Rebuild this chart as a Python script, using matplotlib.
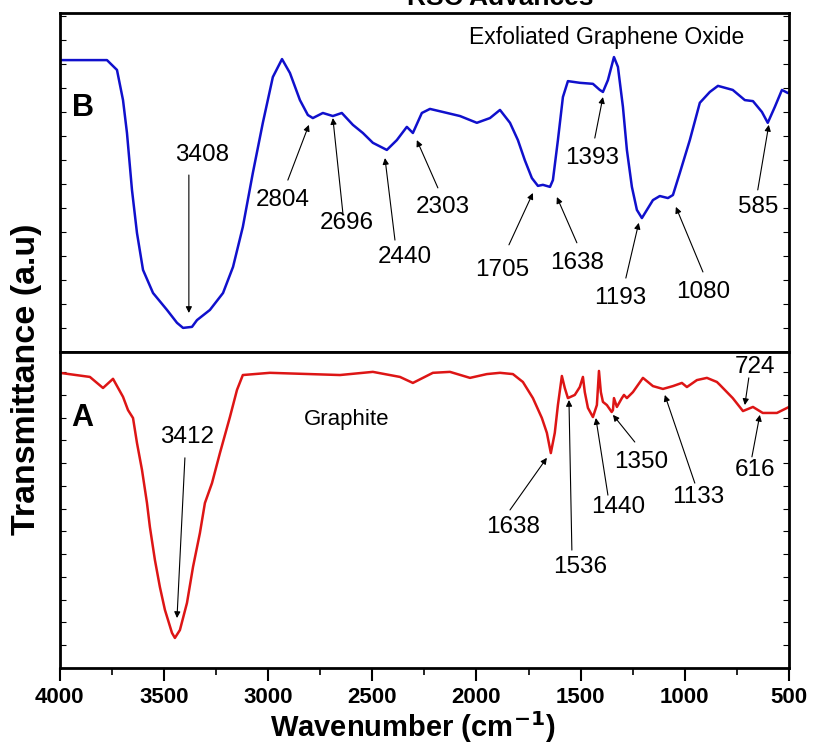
import matplotlib
matplotlib.use("Agg")
import matplotlib.pyplot as plt
from matplotlib.ticker import MultipleLocator

plt.rcParams['font.family'] = ['Liberation Sans', 'DejaVu Sans']
plt.rcParams['mathtext.default'] = 'regular'

# exfoliated graphene oxide (panel B)
go_wn = [4000, 3773, 3725, 3696, 3677, 3653, 3629, 3600, 3552, 3485, 3437, 3408,
         3365, 3341, 3279, 3216, 3168, 3121, 3073, 3025, 2977, 2933, 2895, 2847,
         2809, 2785, 2737, 2689, 2646, 2593, 2545, 2497, 2430, 2382, 2334, 2305,
         2262, 2223, 2161, 2079, 1998, 1935, 1887, 1839, 1801, 1768, 1734, 1705,
         1681, 1647, 1633, 1609, 1585, 1561, 1504, 1441, 1408, 1393, 1369, 1340,
         1321, 1297, 1278, 1254, 1230, 1206, 1182, 1153, 1120, 1081, 1057, 1024,
         976, 928, 880, 841, 770, 712, 673, 630, 602, 568, 534, 506, 500]
go_t = [86.1, 86.1, 83.2, 74.3, 64.6, 47.8, 35.1, 24.2, 17.4, 12.4, 8.6, 7.1,
        7.4, 9.4, 12.4, 17.4, 25.1, 36.9, 52.8, 67.6, 81.1, 86.4, 82.3, 74.3,
        69.9, 69.0, 70.5, 69.6, 70.5, 67.0, 64.6, 61.7, 59.6, 62.5, 66.4, 64.6,
        70.5, 71.7, 70.8, 69.6, 67.6, 69.0, 71.4, 67.6, 62.5, 56.6, 51.3, 49.0,
        49.3, 48.7, 50.7, 62.5, 75.2, 79.9, 79.4, 79.1, 77.3, 76.7, 80.2, 87.0,
        84.1, 72.3, 59.6, 48.7, 41.9, 39.5, 41.9, 44.8, 46.0, 45.4, 46.3, 52.8,
        62.5, 73.5, 76.7, 78.5, 77.3, 74.3, 74.0, 70.8, 67.6, 72.3, 77.3, 76.4,
        76.6]

# graphite (panel A)
gr_wn = [4000, 3855, 3792, 3744, 3696, 3672, 3648, 3629, 3605, 3581, 3567, 3543,
         3519, 3495, 3461, 3447, 3423, 3389, 3360, 3327, 3303, 3269, 3231, 3183,
         3149, 3121, 2991, 2655, 2497, 2367, 2305, 2209, 2127, 2031, 1950, 1887,
         1825, 1777, 1729, 1686, 1662, 1643, 1624, 1609, 1590, 1576, 1561, 1528,
         1504, 1489, 1480, 1465, 1441, 1422, 1412, 1403, 1393, 1374, 1351, 1345,
         1340, 1326, 1302, 1292, 1278, 1249, 1201, 1153, 1105, 1057, 1014, 990,
         942, 894, 846, 832, 770, 721, 673, 626, 558, 500]
gr_t = [93.4, 92.1, 88.6, 91.5, 85.8, 81.6, 79.1, 71.2, 62.7, 52.2, 44.6, 34.2,
        25.6, 18.4, 11.1, 9.5, 12.0, 20.6, 32.0, 42.7, 52.2, 58.5, 68.0, 79.4,
        88.0, 92.7, 93.4, 92.7, 93.7, 92.1, 90.2, 93.4, 93.7, 91.8, 93.0, 93.4,
        93.0, 90.5, 85.4, 79.1, 74.4, 68.0, 74.4, 83.2, 92.4, 88.6, 85.4, 86.4,
        88.9, 92.1, 87.3, 82.3, 79.4, 83.2, 94.0, 87.3, 84.2, 83.2, 81.0, 81.6,
        85.4, 82.6, 85.4, 86.4, 85.4, 87.3, 91.8, 89.2, 88.3, 89.2, 90.2, 88.9,
        91.1, 91.8, 90.5, 89.6, 85.4, 81.3, 82.6, 80.7, 80.7, 82.6]

# peak labels: text, text position, arrow tail, arrow tip
go_peaks = [
    ('3408', (3317, 58.1), (3380, 52.2), (3380, 11.5)),
    ('2804', (2929, 44.8), (2905, 50.7), (2804, 67.0)),
    ('2696', (2622, 38.1), (2641, 41.0), (2689, 69.0)),
    ('2440', (2343, 28.0), (2391, 33.0), (2439, 57.2)),
    ('2303', (2161, 42.8), (2185, 48.4), (2286, 62.5)),
    ('1705', (1878, 24.2), (1844, 31.6), (1729, 46.9)),
    ('1638', (1518, 26.3), (1518, 32.2), (1614, 45.7)),
    ('1393', (1446, 57.2), (1432, 63.1), (1393, 75.2)),
    ('1193', (1312, 15.9), (1283, 21.8), (1221, 38.1)),
    ('1080', (913, 17.7), (913, 23.6), (1043, 42.8)),
    ('585', (650, 42.8), (650, 47.8), (597, 67.0)),
]
gr_peaks = [
    ('3412', (3389, 73.1), (3399, 66.5), (3437, 15.8)),
    ('1638', (1825, 44.6), (1839, 50.0), (1662, 66.5)),
    ('1536', (1504, 32.0), (1542, 37.3), (1556, 84.8)),
    ('1440', (1321, 50.9), (1369, 54.7), (1427, 79.1)),
    ('1350', (1211, 65.2), (1240, 71.5), (1345, 80.1)),
    ('1133', (937, 54.1), (952, 58.5), (1096, 86.4)),
    ('724', (664, 95.3), (693, 91.8), (712, 83.2)),
    ('616', (664, 62.7), (678, 66.8), (640, 80.1)),
]

fig = plt.figure(figsize=(8.14, 7.46), dpi=100)
left, right = 0.0733, 0.9693
ax_b = fig.add_axes([left, 0.5282, right - left, 0.9826 - 0.5282])
ax_a = fig.add_axes([left, 0.1046, right - left, 0.5282 - 0.1046], sharex=ax_b)


def style(ax, step):
    for s in ax.spines.values():
        s.set_linewidth(2.0)
    ax.yaxis.set_major_locator(MultipleLocator(step))
    ax.tick_params(axis='y', which='both', direction='in', length=4, width=0.8,
                   left=True, right=True, labelleft=False)
    ax.set_ylim(0, 100)


def label_peaks(ax, peaks):
    for txt, pos, tail, tip in peaks:
        ax.annotate('', xy=tip, xytext=tail,
                    arrowprops=dict(arrowstyle='-|>', color='black', lw=0.8,
                                    mutation_scale=9, shrinkA=0, shrinkB=0))
        ax.text(pos[0], pos[1], txt, ha='center', va='center', fontsize=17.5)


ax_b.plot(go_wn, go_t, color='#1010cc', lw=1.8)
ax_a.plot(gr_wn, gr_t, color='#dd1515', lw=1.8)

style(ax_b, 7.08)
style(ax_a, 7.2)
ax_b.tick_params(axis='x', which='both', bottom=False, labelbottom=False)

ax_a.set_xlim(4000, 500)
ax_a.xaxis.set_major_locator(MultipleLocator(500))
ax_a.xaxis.set_minor_locator(MultipleLocator(250))
ax_a.tick_params(axis='x', which='major', direction='out', length=9, width=1.5,
                 labelsize=16, pad=5)
ax_a.tick_params(axis='x', which='minor', direction='out', length=5, width=1.2)
for t in ax_a.get_xticklabels():
    t.set_fontweight('bold')

label_peaks(ax_b, go_peaks)
label_peaks(ax_a, gr_peaks)

ax_b.text(1374, 92.9, 'Exfoliated Graphene Oxide', ha='center', va='center',
          fontsize=16.5)
ax_b.text(3888, 72.0, 'B', ha='center', va='center', fontsize=22,
          fontweight='bold')
ax_a.text(2622, 78.5, 'Graphite', ha='center', va='center', fontsize=16)
ax_a.text(3893, 79.1, 'A', ha='center', va='center', fontsize=22,
          fontweight='bold')

fig.text(0.507, 1 - 737 / 746, 'Wavenumber (cm$^{\\mathbf{-1}}$)', ha='center',
         va='baseline', fontsize=21, fontweight='bold')
fig.text(0.033, 0.491, 'Transmittance (a.u)', rotation=90, ha='center',
         va='center', fontsize=24.5, fontweight='bold')
fig.text(0.614, 1 - 5 / 746, 'RSC Advances', ha='center', va='baseline',
         fontsize=19, fontweight='bold')

fig.savefig('out.png', dpi=100)
